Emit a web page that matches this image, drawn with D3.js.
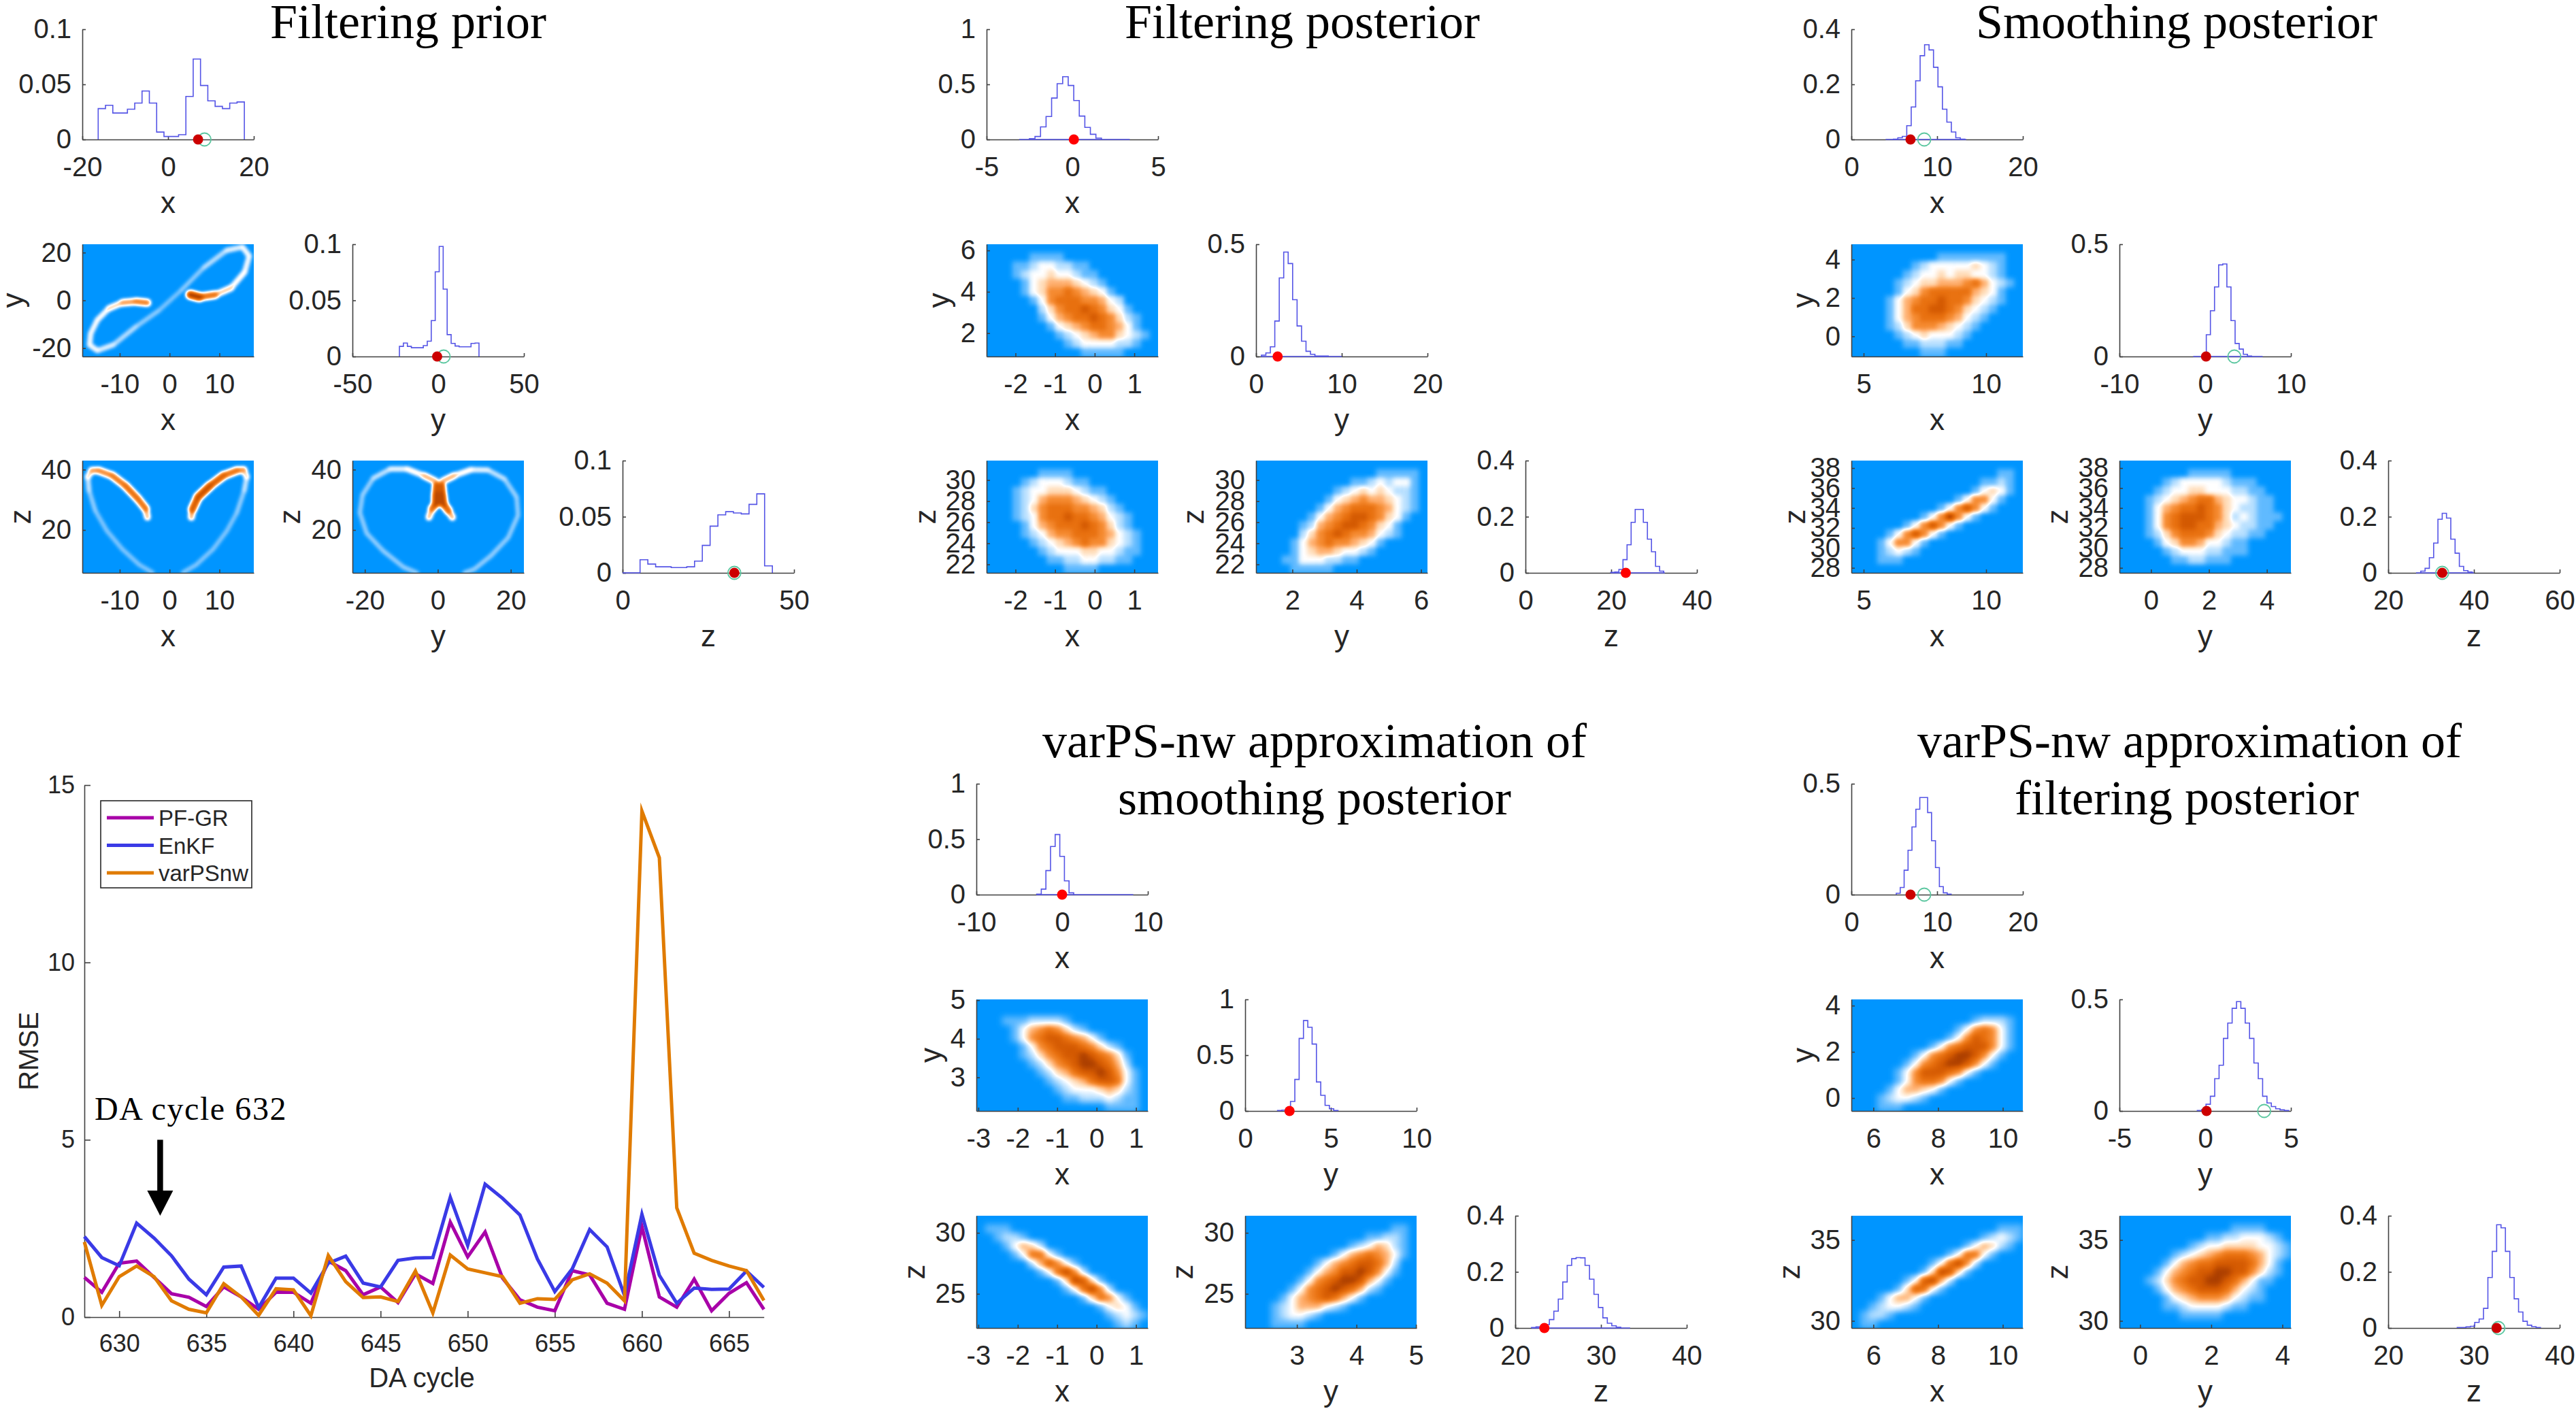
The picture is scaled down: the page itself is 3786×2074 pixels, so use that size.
<!DOCTYPE html>
<html>
<head>
<meta charset="utf-8">
<script src="https://cdn.jsdelivr.net/npm/d3@7"></script>
<style>
  body { margin: 0; background: #fff; }
  svg { display: block; }
</style>
</head>
<body>
<div id="plot"></div>
<script>
// ---- RMSE panel values
const cycles = d3.range(628, 668);
const pfgr = [1.12,0.7,1.52,1.58,1.12,0.66,0.56,0.3,0.85,0.57,0.22,0.7,0.7,0.39,1.58,1.31,0.63,0.85,0.41,1.22,0.95,2.68,1.7,2.4,1.1,0.49,0.28,0.18,1.31,1.19,0.39,0.22,2.55,0.57,0.28,1.07,0.18,0.67,0.97,0.22];
const enkf = [2.27,1.68,1.45,2.65,2.23,1.73,1.07,0.63,1.41,1.44,0.27,1.1,1.1,0.68,1.52,1.72,0.96,0.85,1.6,1.67,1.68,3.38,2.02,3.75,3.35,2.88,1.64,0.72,1.36,2.47,1.98,0.61,2.9,1.18,0.39,0.82,0.78,0.79,1.3,0.84];
const varps = [2.12,0.33,1.14,1.44,1.14,0.46,0.22,0.12,0.94,0.57,0.05,0.8,0.77,0.04,1.74,1.0,0.55,0.57,0.44,1.3,0.12,1.75,1.36,1.25,1.14,0.39,0.52,0.5,1.05,1.22,0.96,0.46,14.27,12.95,3.08,1.8,1.6,1.44,1.31,0.47];
const seriesNames = ["PF-GR", "EnKF", "varPSnw"];
const seriesColors = ["#a800a8", "#3a3ae6", "#e07b00"];
const rmseXTicks = [630,635,640,645,650,655,660,665];
const rmseYTicks = [0,5,10,15];

// ---- histogram bins: [first edge, bin width, heights]
const priorX = [-16.3, 1.705, [.028,.031,.024,.024,.0275,.033,.044,.033,.0067,.0027,.0027,.0043,.039,.073,.049,.035,.03,.028,.033,.034]];
const priorY = [-22.6, 2.32, [.009,.012,.009,.0078,.0078,.0078,.0097,.0136,.032,.0755,.098,.06,.0195,.0117,.0093,.0086,.0086,.0086,.0117,.012]];
const priorZ = [5.1, 2.27, [.0117,.0078,.0054,.0054,.0047,.0047,.0054,.0105,.0245,.0416,.0517,.0545,.0533,.0525,.061,.0704,.0062]];
const filtX = [-2.5, .323, [.008,.027,.114,.208,.376,.506,.569,.49,.353,.212,.11,.047,.012]];
const filtY = [.63, .52, [.006,.016,.043,.158,.35,.465,.414,.253,.136,.068,.023,.01,.002,.002,.002]];
const filtZ = [19.9, .95, [.002,.003,.012,.047,.1,.18,.226,.226,.18,.12,.075,.023,.006]];
const smoothX = [4.9, .52, [.001,.006,.011,.05,.118,.213,.304,.344,.325,.262,.191,.11,.063,.027,.006,.001]];
const smoothY = [-.35, .48, [.01,.097,.204,.31,.408,.412,.31,.16,.058,.033,.01,.002]];
const smoothZ = [27.6, 1, [.006,.016,.054,.106,.191,.212,.195,.12,.07,.023,.008,.003]];
const varSX = [-2.97, .54, [.004,.05,.217,.434,.542,.345,.124,.016]];
const varSY = [1.89, .252, [.004,.008,.025,.085,.283,.65,.81,.75,.6,.26,.14,.05,.02,.004]];
const varSZ = [21.9, .52, [.002,.004,.006,.012,.03,.06,.103,.164,.223,.247,.251,.25,.223,.174,.12,.073,.036,.017,.008,.003]];
const varFX = [5.24, .457, [.006,.032,.11,.2,.305,.385,.438,.438,.37,.243,.122,.036,.008,.002]];
const varFY = [-.46, .254, [.002,.006,.03,.066,.145,.205,.325,.394,.46,.49,.46,.394,.325,.215,.145,.066,.036,.02,.01,.005,.002]];
const varFZ = [28.05, .511, [.002,.002,.004,.006,.02,.032,.07,.18,.273,.368,.357,.273,.18,.104,.057,.024,.01,.005,.002]];

// ---- density ridges of the filtering prior: [a, b, density digit]
const ridgeXYleft = [[-4.46,-1,6.5],[-6.73,-.52,6],[-9.46,-1,5],[-12.18,-3.38,3.5],[-14.46,-8.15,3.2],[-15.82,-13.87,3.2],[-16.05,-18.64,3.2],[-14.46,-21,3.2],[-11.27,-18.64,2.5],[-6.73,-11,2],[-2.19,-4.34,1.5]];
const ridgeXYright = [[-2.19,-4.34,1.5],[2.36,4.24,1.5],[6.9,13.78,2],[11.45,20.93,2.6],[14.63,22.36,3.2],[15.99,18.54,3.2],[15.08,11.87,3.2],[12.35,5.2,3.8],[9.17,2.34,5],[5.99,1.38,8.5],[4.17,2.34,9]];
const ridgeXZright = [[4.37,24.2,3],[4.57,26.8,7],[5.72,30.9,8.5],[8.09,34.6,8],[10.8,38,7],[13.5,39.7,6.5],[14.86,39.9,5],[15.5,37.6,3],[15,33.1,2],[13.5,25.7,1.6],[11.5,19.7,1.6],[8.77,13.7,1.6],[5.38,8.5,1.6],[2.67,5.9,1.6]];
const ridgeXZleft = [[-4.43,24.2,3],[-4.77,27,6.5],[-6.46,30.5,7],[-8.83,34.6,7],[-11.5,38,6],[-14.25,39.7,6],[-15.6,39.7,5],[-16.4,37.6,3],[-16.15,33.1,2],[-14.9,26.4,1.6],[-12.56,19.7,1.6],[-9.5,13.7,1.6],[-6.1,8.5,1.6],[-3.4,5.9,1.6]];
const ridgeYZleft = [[-.59,36.1,6],[-3.82,38,4],[-8.44,40.2,3.2],[-13.06,40.2,2.8],[-17.67,37.2,2],[-20.63,31.6,1.8],[-21.37,25.7,1.8],[-19.5,18.9,1.8],[-14.9,13,1.8],[-9.4,7.7,1.8],[-5.7,5.8,1.8]];
const ridgeYZright = [[1.25,36.1,6],[4.5,38,4],[9.1,40,3.2],[13.7,39.9,2.8],[18.3,36.9,2],[21.6,30.9,1.8],[22,24.9,1.8],[19.3,17.5,1.8],[14.6,11.5,1.8],[10,7,1.8],[7.3,5.8,1.8]];
const ridgeYZcoreL = [[-.3,34.6,7],[-.45,31.6,9],[-.5,28.7,8]];
const ridgeYZcoreR = [[1,34.6,7],[1.2,31.6,9],[1.5,28.7,8]];
const ridgeYZlegL = [[-.5,28.7,7.5],[-1.6,27,6.5],[-2.44,24.2,3]];
const ridgeYZlegR = [[1.5,28.7,7.5],[2.9,26.4,7],[4,24.2,3]];

// ---- density grids, one digit per cell (0 = background, 9 = peak)
const filtGridXY = ["00000000000000000000","00000111100000000000","00011233221100000000","00012334332110000000","00001345554321000000","00001346676543100000","00000136777665320000","00000024677876431000","00000013567787642100","00000001345677653100","00000000123456643210","00000000012333322100","00000000000111110000"];
const filtGridXZ = ["00000000000000000000","00000011110000000000","00001233321100000000","00012334443211000000","00012356665432100000","00012467776654210000","00012367787765321000","00001356777876421000","00001235667776532100","00000123456766432100","00000012333443321100","00000001122332211000","00000000011110000000"];
const filtGridYZ = ["00000000000000000000","00000000000000111110","00000000000112323310","00000000012343432210","00000000134565543210","00000001356777653210","00000013567887643100","00000125678876431000","00000246787665321000","00001356766543100000","00001345543321000000","00011333221100000000","00001111100000000000"];
const smoothGridXY = ["00000000000000000000","00000000001111111100","00000001233333432100","00000012334344332100","00000123445556753210","00000134677777543100","00001356778776432100","00001357788764321000","00001356777653210000","00001246665432100000","00000123433321000000","00000011222110000000","00000000111000000000"];
const smoothGridXZ = ["00000000000000000000","00000000000000000110","00000000000000011210","00000000000000134310","00000000000013663100","00000000001368631000","00000000136963100000","00000013686310000000","00001368631000000000","00013663100000000000","00012321000000000000","00011100000000000000","00000000000000000000"];
const smoothGridYZ = ["00000000000000000000","00000000111110000000","00000123333321110000","00001233443332211000","00012345677543321100","00013567787643221100","00013678887642321110","00013678877543221100","00012467776432211000","00001346653321100000","00000123332211100000","00000011221110000000","00000000000000000000"];
const varSGridXY = ["00000000000000000000","00000000000000000000","00011122221000000000","00001356764210000000","00001367887653100000","00000136788876421000","00000124678898764100","00000012467899875200","00000001245788986310","00000000123457887310","00000000012333454210","00000000001122232110","00000000000000011110"];
const varSGridXZ = ["00000000000000000000","01110000000000000000","00122100000000000000","00013542000000000000","00001377310000000000","00000025863100000000","00000001379620000000","00000000014984100000","00000000001379620000","00000000000014763100","00000000000000134310","00000000000000012321","00000000000000001210"];
const varSGridYZ = ["00000000000000000000","00000000000000000110","00000000000000112210","00000000000012354210","00000000001356765310","00000000135678875200","00000001356889863100","00000013678998531000","00000136789875210000","00001356787531000000","00012355532100000000","00012332100000000000","00011110000000000000"];
const varFGridXY = ["00000000000000000000","00000000000000000000","00000000000000122210","00000000000013676310","00000000000136876310","00000000013678886310","00000001367899863100","00000013678998631000","00000136888763100000","00000136776310000000","00001355431000000000","00012332100000000000","00011100000000000000"];
const varFGridXZ = ["00000000000000000000","00000000000000000111","00000000000000012321","00000000000001354210","00000000000137731000","00000000013796200000","00000000149841000000","00000013895200000000","00000148731000000000","00013553100000000000","00123321000000000000","01221000000000000000","01100000000000000000"];
const varFGridYZ = ["00000000000000000000","00000000000001111000","00000000001122333210","00000000123344443321","00000012345677765321","00000135677888875310","00001356788998864210","00012467889987531100","00001356788875321000","00000134566653211000","00000112333321100000","00000001111100000000","00000000000000000000"];

// blue - white - orange colour map, one stop per digit
const colorStops = ["#0096ff","#62bbff","#b8e0ff","#ffffff","#ffdcb8","#ffb070","#f58a30","#e8700f","#d45a02","#a83c00"];

// ---- layout
const W = 3786, H = 2074, panelW = 252;
const sans = "'Liberation Sans', Arial, sans-serif";
const serif = "'Liberation Serif', 'Times New Roman', serif";
const axisColor = "#404040", textColor = "#262626";

const svg = d3.select("#plot").append("svg").attr("width", W).attr("height", H);
svg.append("rect").attr("width", W).attr("height", H).attr("fill", "#fff");

// filters: blur the grey field, then push it through the colour map
const defs = svg.append("defs");
function addFilter(id, std) {
  const f = defs.append("filter").attr("id", id)
    .attr("x", "-10%").attr("y", "-10%").attr("width", "120%").attr("height", "120%")
    .attr("color-interpolation-filters", "sRGB");
  f.append("feGaussianBlur").attr("stdDeviation", std);
  const ct = f.append("feComponentTransfer");
  const rgb = colorStops.map(c => d3.rgb(c));
  ct.append("feFuncR").attr("type", "table").attr("tableValues", rgb.map(c => c.r / 255).join(" "));
  ct.append("feFuncG").attr("type", "table").attr("tableValues", rgb.map(c => c.g / 255).join(" "));
  ct.append("feFuncB").attr("type", "table").attr("tableValues", rgb.map(c => c.b / 255).join(" "));
}
addFilter("noisy", 3.8);
addFilter("smooth", 5);
addFilter("ridge", 2.4);

function grey(v) { const g = Math.round(v / 9 * 255); return d3.rgb(g, g, g).formatHex(); }

let clipCount = 0;

function styleAxis(g, size) {
  g.attr("font-family", sans).attr("font-size", size).style("color", textColor);
  g.selectAll(".domain, .tick line").style("stroke", axisColor).style("stroke-width", 1.6);
}

function drawAxes(left, top, bottom, xDomain, yDomain, xTicks, yTicks, xLabel, yLabel, yLabelOffset) {
  const right = left + panelW;
  const xScale = d3.scaleLinear().domain(xDomain).range([left, right]);
  const yScale = d3.scaleLinear().domain(yDomain).range([bottom, top]);
  svg.append("g").attr("transform", `translate(0,${bottom})`)
    .call(d3.axisBottom(xScale).tickValues(xTicks).tickSize(-5).tickSizeOuter(0).tickPadding(26).tickFormat(String))
    .call(styleAxis, 40);
  svg.append("g").attr("transform", `translate(${left},0)`)
    .call(d3.axisLeft(yScale).tickValues(yTicks).tickSize(-5).tickSizeOuter(0).tickPadding(16).tickFormat(String))
    .call(styleAxis, 40);
  svg.append("text").attr("x", left + panelW / 2).attr("y", bottom + 108)
    .attr("text-anchor", "middle").attr("font-family", sans).attr("font-size", 44).attr("fill", textColor)
    .text(xLabel);
  if (yLabel) {
    const cy = (top + bottom) / 2, bx = left + yLabelOffset + 11;
    svg.append("text").attr("transform", `translate(${bx},${cy}) rotate(-90)`)
      .attr("text-anchor", "middle").attr("font-family", sans).attr("font-size", 44).attr("fill", textColor)
      .text(yLabel);
  }
}

function hist(left, top, bottom, xDomain, xTicks, yMax, yTicks, label, bins, tail, redX, greenX, redColor) {
  // axes go down first, the histogram and markers sit on top of them
  const xScale = d3.scaleLinear().domain(xDomain).range([left, left + panelW]);
  const yScale = d3.scaleLinear().domain([0, yMax]).range([bottom, top]);
  drawAxes(left, top, bottom, xDomain, [0, yMax], xTicks, yTicks, label);
  const [start, step, heights] = bins;
  const pts = [[start, 0]];
  heights.forEach((h, i) => { pts.push([start + i * step, h]); pts.push([start + (i + 1) * step, h]); });
  pts.push([start + heights.length * step, 0]);
  const line = d3.line().x(d => xScale(d[0])).y(d => yScale(d[1]));
  if (tail) {
    svg.append("path").attr("d", line([[tail[0], 0], [tail[1], 0]]))
      .attr("fill", "none").attr("stroke", "#5555e6").attr("stroke-width", 1.6);
  }
  svg.append("path").attr("d", line(pts)).attr("fill", "none").attr("stroke", "#5555e6").attr("stroke-width", 1.6);
  if (greenX !== null) {
    svg.append("circle").attr("cx", xScale(greenX)).attr("cy", bottom).attr("r", 9.5)
      .attr("fill", "none").attr("stroke", "#5cc7a0").attr("stroke-width", 1.8);
  }
  svg.append("circle").attr("cx", xScale(redX)).attr("cy", bottom).attr("r", 7.5).attr("fill", redColor);
}

// opens a clipped, filtered layer for one density image
function densityLayer(left, top, bottom, filterId) {
  const id = "clip" + (clipCount++);
  defs.append("clipPath").attr("id", id).append("rect")
    .attr("x", left).attr("y", top).attr("width", panelW).attr("height", bottom - top);
  const layer = svg.append("g").attr("clip-path", `url(#${id})`)
    .append("g").attr("filter", `url(#${filterId})`);
  layer.append("rect").attr("x", left - 30).attr("y", top - 30)
    .attr("width", panelW + 60).attr("height", bottom - top + 60).attr("fill", "#000");
  return layer;
}

function gridPanel(left, top, bottom, grid, filterId, xDomain, yDomain, xTicks, yTicks, xLabel, yLabel, off) {
  const layer = densityLayer(left, top, bottom, filterId);
  const colScale = d3.scaleBand().domain(d3.range(grid[0].length)).range([left, left + panelW]);
  const rowScale = d3.scaleBand().domain(d3.range(grid.length)).range([top, bottom]);
  const cells = grid.flatMap((row, r) => row.split("").map((d, c) => ({ r, c, v: +d })));
  layer.selectAll("rect.cell").data(cells).join("rect").attr("class", "cell")
    .attr("x", d => colScale(d.c)).attr("y", d => rowScale(d.r))
    .attr("width", colScale.bandwidth() + .5).attr("height", rowScale.bandwidth() + .5)
    .attr("fill", d => grey(d.v));
  drawAxes(left, top, bottom, xDomain, yDomain, xTicks, yTicks, xLabel, yLabel, off);
}

function ridgePanel(left, top, bottom, ridges, xDomain, yDomain, xTicks, yTicks, xLabel, yLabel, off) {
  const layer = densityLayer(left, top, bottom, "ridge");
  const xScale = d3.scaleLinear().domain(xDomain).range([left, left + panelW]);
  const yScale = d3.scaleLinear().domain(yDomain).range([bottom, top]);
  const line = d3.line().x(d => xScale(d[0])).y(d => yScale(d[1]));
  const segs = ridges.flatMap(r => d3.pairs(r).map(([a, b]) => ({ a, b, v: (a[2] + b[2]) / 2 })));
  segs.sort((p, q) => p.v - q.v);
  layer.selectAll("path.seg").data(segs).join("path").attr("class", "seg")
    .attr("d", d => line([d.a, d.b])).attr("fill", "none")
    .attr("stroke", d => grey(d.v)).attr("stroke-width", d => 4 + d.v * .9)
    .attr("stroke-linecap", "round");
  drawAxes(left, top, bottom, xDomain, yDomain, xTicks, yTicks, xLabel, yLabel, off);
}

// ---- filtering prior
hist(121, 43, 205, [-20,20], [-20,0,20], .1, [0,.05,.1], "x", priorX, null, 7, 8.5, "#cc0000");
hist(518, 359, 524, [-50,50], [-50,0,50], .1, [0,.05,.1], "y", priorY, null, -.6, 3.2, "#cc0000");
hist(915, 677, 842, [0,50], [0,50], .1, [0,.05,.1], "z", priorZ, [0, 5.1], 32.6, 32.6, "#cc0000");
ridgePanel(121, 359, 524, [ridgeXYleft, ridgeXYright], [-17.5,16.9], [-23.5,23.5], [-10,0,10], [-20,0,20], "x", "y", -98);
ridgePanel(121, 677, 842, [ridgeXZleft, ridgeXZright], [-17.5,16.9], [5.8,43], [-10,0,10], [20,40], "x", "z", -87);
ridgePanel(518, 677, 842, [ridgeYZleft, ridgeYZright, ridgeYZcoreL, ridgeYZcoreR, ridgeYZlegL, ridgeYZlegR], [-23.4,23.6], [5.8,43], [-20,0,20], [20,40], "y", "z", -88);

// ---- filtering posterior
hist(1450, 43, 205, [-5,5], [-5,0,5], 1, [0,.5,1], "x", filtX, [-3.1,3.35], .09, null, "#ff0000");
hist(1846, 359, 524, [0,20], [0,10,20], .5, [0,.5], "y", filtY, [.6,10], 2.52, null, "#ff0000");
hist(2242, 677, 842, [0,40], [0,20,40], .4, [0,.2,.4], "z", filtZ, [19.9,32.5], 23.4, null, "#ff0000");
gridPanel(1450, 359, 524, filtGridXY, "noisy", [-2.73,1.6], [.87,6.3], [-2,-1,0,1], [2,4,6], "x", "y", -66);
gridPanel(1450, 677, 842, filtGridXZ, "noisy", [-2.73,1.6], [21.2,31.85], [-2,-1,0,1], [22,24,26,28,30], "x", "z", -86);
gridPanel(1846, 677, 842, filtGridYZ, "noisy", [.87,6.2], [21.2,31.85], [2,4,6], [22,24,26,28,30], "y", "z", -88);

// ---- smoothing posterior
hist(2721, 43, 205, [0,20], [0,10,20], .4, [0,.2,.4], "x", smoothX, [4,13.4], 6.9, 8.5, "#cc0000");
hist(3115, 359, 524, [-10,10], [-10,0,10], .5, [0,.5], "y", smoothY, [-1.4,6.7], .1, 3.4, "#cc0000");
hist(3510, 677, 842, [20,60], [20,40,60], .4, [0,.2,.4], "z", smoothZ, [26.5,40], 32.6, 32.6, "#cc0000");
gridPanel(2721, 359, 524, smoothGridXY, "noisy", [4.5,11.5], [-1.05,4.8], [5,10], [0,2,4], "x", "y", -67);
gridPanel(2721, 677, 842, smoothGridXZ, "noisy", [4.5,11.5], [27.5,38.75], [5,10], [28,30,32,34,36,38], "x", "z", -79);
gridPanel(3115, 677, 842, smoothGridYZ, "noisy", [-1.09,4.83], [27.5,38.75], [0,2,4], [28,30,32,34,36,38], "y", "z", -87);

// ---- varPS-nw, smoothing posterior
hist(1435, 1152, 1315, [-10,10], [-10,0,10], 1, [0,.5,1], "x", varSX, [-3,8.3], 0, null, "#ff0000");
hist(1830, 1469, 1633, [0,10], [0,5,10], 1, [0,.5,1], "y", varSY, null, 2.59, null, "#ff0000");
hist(2227, 1787, 1952, [20,40], [20,30,40], .4, [0,.2,.4], "z", varSZ, [21.9,33.4], 23.4, null, "#ff0000");
gridPanel(1435, 1469, 1633, varSGridXY, "smooth", [-3.05,1.3], [2.13,5.02], [-3,-2,-1,0,1], [3,4,5], "x", "y", -63);
gridPanel(1435, 1787, 1952, varSGridXZ, "smooth", [-3.05,1.3], [22.2,31.4], [-3,-2,-1,0,1], [25,30], "x", "z", -87);
gridPanel(1830, 1787, 1952, varSGridYZ, "smooth", [2.13,5.01], [22.2,31.4], [3,4,5], [25,30], "y", "z", -88);

// ---- varPS-nw, filtering posterior
hist(2721, 1152, 1315, [0,20], [0,10,20], .5, [0,.5], "x", varFX, null, 6.9, 8.5, "#cc0000");
hist(3115, 1469, 1633, [-5,5], [-5,0,5], .5, [0,.5], "y", varFY, null, .08, 3.44, "#cc0000");
hist(3510, 1787, 1952, [20,40], [20,30,40], .4, [0,.2,.4], "z", varFZ, null, 32.65, 32.85, "#cc0000");
gridPanel(2721, 1469, 1633, varFGridXY, "smooth", [5.32,10.62], [-.56,4.27], [6,8,10], [0,2,4], "x", "y", -67);
gridPanel(2721, 1787, 1952, varFGridXZ, "smooth", [5.32,10.62], [29.56,36.5], [6,8,10], [30,35], "x", "z", -87);
gridPanel(3115, 1787, 1952, varFGridYZ, "smooth", [-.58,4.24], [29.56,36.5], [0,2,4], [30,35], "y", "z", -87);

// ---- titles
const titles = [
  ["Filtering prior", 600, 56], ["Filtering posterior", 1914, 56], ["Smoothing posterior", 3199, 56],
  ["varPS-nw approximation of", 1932, 1113], ["smoothing posterior", 1932, 1197],
  ["varPS-nw approximation of", 3218, 1113], ["filtering posterior", 3214, 1197]
];
svg.selectAll("text.title").data(titles).join("text").attr("class", "title")
  .attr("x", d => d[1]).attr("y", d => d[2]).attr("text-anchor", "middle")
  .attr("font-family", serif).attr("font-size", 72).attr("fill", "#000").text(d => d[0]);

// ---- RMSE line chart
const rx = d3.scaleLinear().domain([628, 667]).range([124, 1122.7]);
const ry = d3.scaleLinear().domain([0, 15]).range([1936, 1154]);

svg.append("g").attr("transform", "translate(0,1936)")
  .call(d3.axisBottom(rx).tickValues(rmseXTicks).tickSize(-9).tickSizeOuter(0).tickPadding(25).tickFormat(String))
  .call(styleAxis, 36);
svg.append("g").attr("transform", "translate(124,0)")
  .call(d3.axisLeft(ry).tickValues(rmseYTicks).tickSize(-9).tickSizeOuter(0).tickPadding(14).tickFormat(String))
  .call(styleAxis, 36);

[pfgr, enkf, varps].forEach((vals, i) => {
  svg.append("path")
    .attr("d", d3.line().x((d, j) => rx(cycles[j])).y(d => ry(d))(vals))
    .attr("fill", "none").attr("stroke", seriesColors[i]).attr("stroke-width", 5)
    .attr("stroke-linejoin", "miter").attr("stroke-miterlimit", 10);
});

svg.append("text").attr("x", 620).attr("y", 2039).attr("text-anchor", "middle")
  .attr("font-family", sans).attr("font-size", 40).attr("fill", textColor).text("DA cycle");
svg.append("text").attr("transform", "translate(56,1545) rotate(-90)").attr("text-anchor", "middle")
  .attr("font-family", sans).attr("font-size", 40).attr("fill", textColor).text("RMSE");

// legend
const legend = svg.append("g");
legend.append("rect").attr("x", 148).attr("y", 1177).attr("width", 222).attr("height", 128)
  .attr("fill", "#fff").attr("stroke", textColor).attr("stroke-width", 1.6);
seriesNames.forEach((name, i) => {
  const y = 1202 + i * 40.5;
  legend.append("line").attr("x1", 157).attr("x2", 226).attr("y1", y).attr("y2", y)
    .attr("stroke", seriesColors[i]).attr("stroke-width", 5);
  legend.append("text").attr("x", 233).attr("y", y + 12)
    .attr("font-family", sans).attr("font-size", 33).attr("fill", textColor).text(name);
});

// annotation arrow
const arrowX = rx(632.35);
svg.append("text").attr("x", 139).attr("y", 1646).attr("font-family", serif).attr("font-size", 48)
  .attr("letter-spacing", 1.6).attr("fill", "#000").text("DA cycle 632");
svg.append("line").attr("x1", arrowX).attr("x2", arrowX).attr("y1", ry(5)).attr("y2", ry(3.4))
  .attr("stroke", "#000").attr("stroke-width", 8.5);
svg.append("path")
  .attr("d", `M${arrowX - 19},${ry(3.57)}L${arrowX + 19},${ry(3.57)}L${arrowX},${ry(2.86)}Z`)
  .attr("fill", "#000");
</script>
</body>
</html>
